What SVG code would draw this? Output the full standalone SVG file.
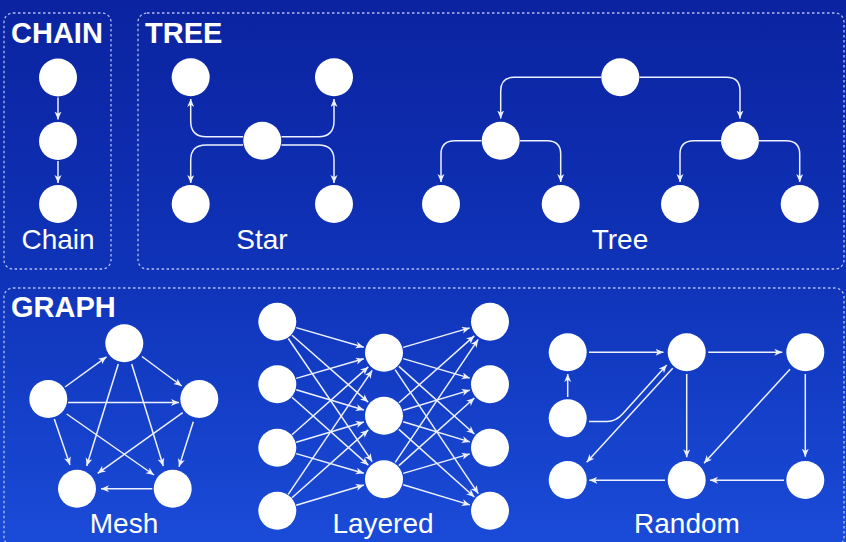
<svg xmlns="http://www.w3.org/2000/svg" width="846" height="542" viewBox="0 0 846 542">
<defs>
<linearGradient id="bg" x1="0" y1="0" x2="0" y2="1">
<stop offset="0" stop-color="#0b23a0"/>
<stop offset="0.5" stop-color="#0f33b8"/>
<stop offset="1" stop-color="#1a4bd8"/>
</linearGradient>
<marker id="ah" markerUnits="userSpaceOnUse" markerWidth="9" markerHeight="8" refX="8" refY="3.5" orient="auto">
<path d="M0,0 L8,3.5 L0,7 L2.2,3.5 Z" fill="#eef1ff"/>
</marker>
<style>
.box{fill:none;stroke:#cfd6ff;stroke-opacity:.85;stroke-width:1.3;stroke-dasharray:2.5 2.5}
.hd{font-family:"Liberation Sans",Arial,sans-serif;font-weight:bold;font-size:29px;fill:#fff}
.lb{font-family:"Liberation Sans",Arial,sans-serif;font-size:28px;fill:#fff;text-anchor:middle}
.n{fill:#fff}
.e{fill:none;stroke:#eef1ff;stroke-width:1.5;marker-end:url(#ah)}
</style>
</defs>
<rect width="846" height="542" fill="url(#bg)"/>
<g id="frames">
<rect class="box" x="4" y="13" width="107" height="256" rx="9"/>
<rect class="box" x="138" y="13" width="706" height="256" rx="9"/>
<rect class="box" x="4" y="288" width="840" height="258" rx="9"/>
<text class="hd" x="11" y="43">CHAIN</text>
<text class="hd" x="145" y="43">TREE</text>
<text class="hd" x="11" y="317">GRAPH</text>
</g>
<g id="labels">
<text class="lb" x="58" y="249">Chain</text>
<text class="lb" x="262" y="249">Star</text>
<text class="lb" x="620" y="249">Tree</text>
<text class="lb" x="124" y="533">Mesh</text>
<text class="lb" x="383" y="533">Layered</text>
<text class="lb" x="687" y="533">Random</text>
</g>
<g id="connectors">
<path class="e" d="M58 97.5 V119.5"/>
<path class="e" d="M58 161 V183"/>
<path class="e" d="M243 136.7 H206 Q190.7 136.7 190.7 121 V99"/>
<path class="e" d="M243 145 H206 Q190.7 145 190.7 160 V183"/>
<path class="e" d="M281.5 136.7 H318.5 Q334 136.7 334 121 V99"/>
<path class="e" d="M281.5 145 H318.5 Q334 145 334 160 V183"/>
<path class="e" d="M601 77.3 H514 Q500.7 77.3 500.7 91 V118.5"/>
<path class="e" d="M639.5 77.3 H726.5 Q740 77.3 740 91 V118.5"/>
<path class="e" d="M481.5 140.7 H455 Q441 140.7 441 154 V182"/>
<path class="e" d="M520 140.7 H547 Q560.7 140.7 560.7 154 V182"/>
<path class="e" d="M721 140.7 H694 Q680 140.7 680 154 V182"/>
<path class="e" d="M759 140.7 H786 Q799.7 140.7 799.7 154 V182"/>
<line class="e" x1="65" y1="387" x2="106.5" y2="356.8"/>
<line class="e" x1="142" y1="356.5" x2="181.7" y2="386"/>
<line class="e" x1="68" y1="402.5" x2="179" y2="402.5"/>
<line class="e" x1="54.3" y1="419" x2="70" y2="465"/>
<line class="e" x1="66.7" y1="414" x2="154" y2="475"/>
<line class="e" x1="118.3" y1="364" x2="86.7" y2="466"/>
<line class="e" x1="131.7" y1="364" x2="163.3" y2="466"/>
<line class="e" x1="182.7" y1="412.7" x2="97.7" y2="473.3"/>
<line class="e" x1="193.3" y1="421.7" x2="179" y2="466.7"/>
<line class="e" x1="152.3" y1="488.7" x2="101" y2="488.7"/>
<line class="e" x1="296.2" y1="327.6" x2="363.8" y2="347.2"/>
<line class="e" x1="292" y1="335.2" x2="368.2" y2="402.1"/>
<line class="e" x1="288.3" y1="338.5" x2="372.2" y2="461.6"/>
<line class="e" x1="296.2" y1="378.4" x2="363.8" y2="358.8"/>
<line class="e" x1="296.2" y1="389.7" x2="363.9" y2="410"/>
<line class="e" x1="292" y1="397.3" x2="368.3" y2="465.1"/>
<line class="e" x1="292" y1="434.7" x2="368.3" y2="366.9"/>
<line class="e" x1="296.2" y1="442.3" x2="363.9" y2="422"/>
<line class="e" x1="296.2" y1="453.6" x2="363.8" y2="473.2"/>
<line class="e" x1="288.2" y1="494.4" x2="372.2" y2="370.4"/>
<line class="e" x1="292" y1="497.7" x2="368.3" y2="429.9"/>
<line class="e" x1="296.2" y1="505.3" x2="363.9" y2="485"/>
<line class="e" x1="403.2" y1="347.4" x2="469.8" y2="327.9"/>
<line class="e" x1="403.2" y1="358.6" x2="469.8" y2="378.1"/>
<line class="e" x1="398.9" y1="366.4" x2="474.4" y2="434"/>
<line class="e" x1="395.1" y1="369.6" x2="478.3" y2="493.6"/>
<line class="e" x1="399" y1="402.7" x2="474.3" y2="335.9"/>
<line class="e" x1="403.2" y1="410.2" x2="469.9" y2="390.1"/>
<line class="e" x1="403.2" y1="421.8" x2="469.9" y2="441.9"/>
<line class="e" x1="398.9" y1="429.4" x2="474.4" y2="497"/>
<line class="e" x1="395.2" y1="462.4" x2="478.2" y2="339.4"/>
<line class="e" x1="398.9" y1="465.6" x2="474.4" y2="398"/>
<line class="e" x1="403.2" y1="473.4" x2="469.8" y2="453.9"/>
<line class="e" x1="403.2" y1="484.8" x2="469.9" y2="504.9"/>
<line class="e" x1="589" y1="352.3" x2="663.5" y2="352.3"/>
<line class="e" x1="708.3" y1="352.3" x2="782.3" y2="352.3"/>
<line class="e" x1="567.7" y1="397" x2="567.7" y2="374"/>
<path class="e" d="M589 421.6 H607 Q616 421.6 623 413.6 L666.7 365"/>
<line class="e" x1="672.7" y1="368.3" x2="586.7" y2="462.3"/>
<line class="e" x1="686.7" y1="374" x2="686.7" y2="457.3"/>
<line class="e" x1="790" y1="369.3" x2="704" y2="463.3"/>
<line class="e" x1="805.3" y1="374" x2="805.3" y2="456.7"/>
<line class="e" x1="784" y1="480.3" x2="710" y2="480.3"/>
<line class="e" x1="665" y1="480.3" x2="589.3" y2="480.3"/>
</g>
<g id="chain-nodes">
<circle id="c1" class="n" cx="58" cy="77.5" r="19"/>
<circle id="c2" class="n" cx="58" cy="141" r="19"/>
<circle id="c3" class="n" cx="58" cy="204" r="19"/>
</g>
<g id="star-nodes">
<circle id="s-center" class="n" cx="262.3" cy="140.7" r="19"/>
<circle id="s-tl" class="n" cx="190.7" cy="77.3" r="19"/>
<circle id="s-tr" class="n" cx="334" cy="77.3" r="19"/>
<circle id="s-bl" class="n" cx="190.7" cy="204" r="19"/>
<circle id="s-br" class="n" cx="334" cy="204" r="19"/>
</g>
<g id="tree-nodes">
<circle id="t-root" class="n" cx="620.3" cy="77.3" r="19"/>
<circle id="t-l" class="n" cx="500.7" cy="140.7" r="19"/>
<circle id="t-r" class="n" cx="740" cy="140.7" r="19"/>
<circle id="t-ll" class="n" cx="441" cy="204" r="19"/>
<circle id="t-lr" class="n" cx="560.7" cy="204" r="19"/>
<circle id="t-rl" class="n" cx="680" cy="204" r="19"/>
<circle id="t-rr" class="n" cx="799.7" cy="204" r="19"/>
</g>
<g id="mesh-nodes">
<circle id="m-top" class="n" cx="124.3" cy="343.3" r="19"/>
<circle id="m-left" class="n" cx="48.3" cy="399" r="19"/>
<circle id="m-right" class="n" cx="199.3" cy="399" r="19"/>
<circle id="m-bl" class="n" cx="77" cy="488.7" r="19"/>
<circle id="m-br" class="n" cx="172.7" cy="488.7" r="19"/>
</g>
<g id="layered-nodes">
<circle id="l-a1" class="n" cx="277.3" cy="321.7" r="19"/>
<circle id="l-a2" class="n" cx="277.3" cy="384.3" r="19"/>
<circle id="l-a3" class="n" cx="277.3" cy="447.7" r="19"/>
<circle id="l-a4" class="n" cx="277.3" cy="510.7" r="19"/>
<circle id="l-b1" class="n" cx="384" cy="352.7" r="19"/>
<circle id="l-b2" class="n" cx="384" cy="415.7" r="19"/>
<circle id="l-b3" class="n" cx="384" cy="479.3" r="19"/>
<circle id="l-c1" class="n" cx="490" cy="321.7" r="19"/>
<circle id="l-c2" class="n" cx="490" cy="384.3" r="19"/>
<circle id="l-c3" class="n" cx="490" cy="447.7" r="19"/>
<circle id="l-c4" class="n" cx="490" cy="510.7" r="19"/>
</g>
<g id="random-nodes">
<circle id="r-a" class="n" cx="567.7" cy="352.3" r="19"/>
<circle id="r-b" class="n" cx="686.7" cy="352.3" r="19"/>
<circle id="r-c" class="n" cx="805.3" cy="352.3" r="19"/>
<circle id="r-d" class="n" cx="567.7" cy="418.3" r="19"/>
<circle id="r-e" class="n" cx="567.7" cy="480" r="19"/>
<circle id="r-f" class="n" cx="686.7" cy="480" r="19"/>
<circle id="r-g" class="n" cx="805.3" cy="480" r="19"/>
</g>
</svg>
